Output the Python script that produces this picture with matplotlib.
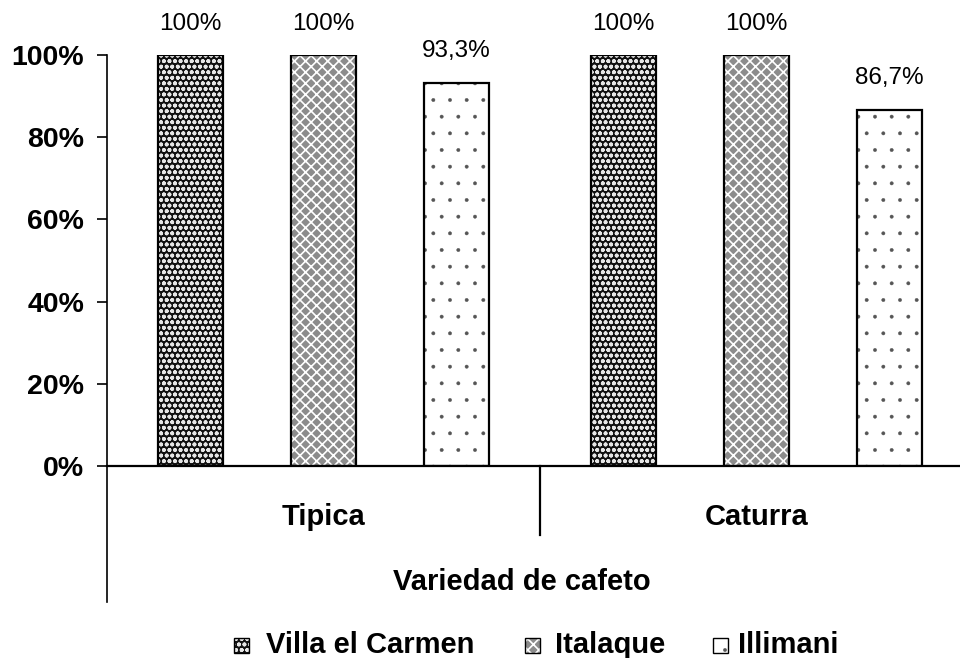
import matplotlib
matplotlib.use("Agg")
import matplotlib.pyplot as plt
from matplotlib.patches import Rectangle
import numpy as np

categories = ["Tipica", "Caturra"]
series = ["Villa el Carmen", "Italaque", "Illimani"]
values = {
    "Villa el Carmen": [100.0, 100.0],
    "Italaque": [100.0, 100.0],
    "Illimani": [93.3, 86.7],
}
yticks = [0, 20, 40, 60, 80, 100]
xlabel = "Variedad de cafeto"

styles = {
    "Villa el Carmen": dict(face="#111111", hatch="ooo", hcol="#e6e6e6", hlw=1.2),
    "Italaque": dict(face="#8c8c8c", hatch="xxx", hcol="#ffffff", hlw=1.2),
    "Illimani": dict(face="#ffffff", hatch=".", hcol="#555555", hlw=0.3),
}

plt.rcParams["font.family"] = ["Liberation Sans", "DejaVu Sans"]

W, H = 960, 658
fig = plt.figure(figsize=(W / 100, H / 100), dpi=100)
ax = fig.add_axes([107 / W, (H - 466) / H, 866 / W, 411 / H])

offsets = [-0.307, 0.0, 0.307]
bw = 0.152
x = np.arange(len(categories)) + 0.5

for s, off in zip(series, offsets):
    st = styles[s]
    v = values[s]
    plt.rcParams["hatch.linewidth"] = st["hlw"]
    ax.bar(x + off, v, bw, color=st["face"], edgecolor=st["hcol"],
           hatch=st["hatch"], linewidth=0, zorder=2)
    ax.bar(x + off, v, bw, fill=False, edgecolor="black", linewidth=1.6, zorder=3)
    for xi, vi in zip(x + off, v):
        txt = f"{vi:.1f}".rstrip("0").rstrip(".").replace(".", ",") + "%"
        ax.annotate(txt, (xi, vi), xytext=(0, 22.5), textcoords="offset points",
                    ha="center", va="center", fontsize=17.5, clip_on=False)

ax.set_xlim(0, 2)
ax.set_ylim(0, 100)
ax.set_yticks(yticks)
ax.set_yticklabels([f"{t}%" for t in yticks], fontsize=20.5, fontweight="bold")
ax.tick_params(axis="y", direction="out", length=7.5, width=1.2, pad=9)
ax.set_xticks([])
for sp in ["top", "right"]:
    ax.spines[sp].set_visible(False)
ax.spines["left"].set_linewidth(1.2)
ax.spines["bottom"].set_linewidth(1.6)

# extended axis line and group divider
ax.plot([0, 0], [0, -(602 - 466) / 411 * 100], color="black", lw=1.2, clip_on=False)
ax.plot([1, 1], [0, -(535 - 466) / 411 * 100], color="black", lw=1.6, clip_on=False)

for xi, c in zip(x, categories):
    ax.text(xi, -(517 - 466) / 411 * 100, c, ha="center", va="center",
            fontsize=21, fontweight="bold", clip_on=False)

fig.text(522 / W, 1 - 582 / H, xlabel, ha="center", va="center",
         fontsize=21, fontweight="bold")

# legend drawn manually
leg_handle_x = [234, 525, 713]
leg_text_x = [266, 555, 738]
leg_y = 645
sq = 15
for s, hx, tx in zip(series, leg_handle_x, leg_text_x):
    st = styles[s]
    plt.rcParams["hatch.linewidth"] = st["hlw"]
    fig.add_artist(Rectangle((hx / W, (H - leg_y - sq / 2) / H), sq / W, sq / H,
                             transform=fig.transFigure, facecolor=st["face"],
                             edgecolor=st["hcol"], hatch=st["hatch"], linewidth=0))
    fig.add_artist(Rectangle((hx / W, (H - leg_y - sq / 2) / H), sq / W, sq / H,
                             transform=fig.transFigure, fill=False,
                             edgecolor="black", linewidth=1.0))
    fig.text(tx / W, 1 - leg_y / H, s, ha="left", va="center",
             fontsize=21, fontweight="bold")

fig.savefig("out.png", dpi=100)
